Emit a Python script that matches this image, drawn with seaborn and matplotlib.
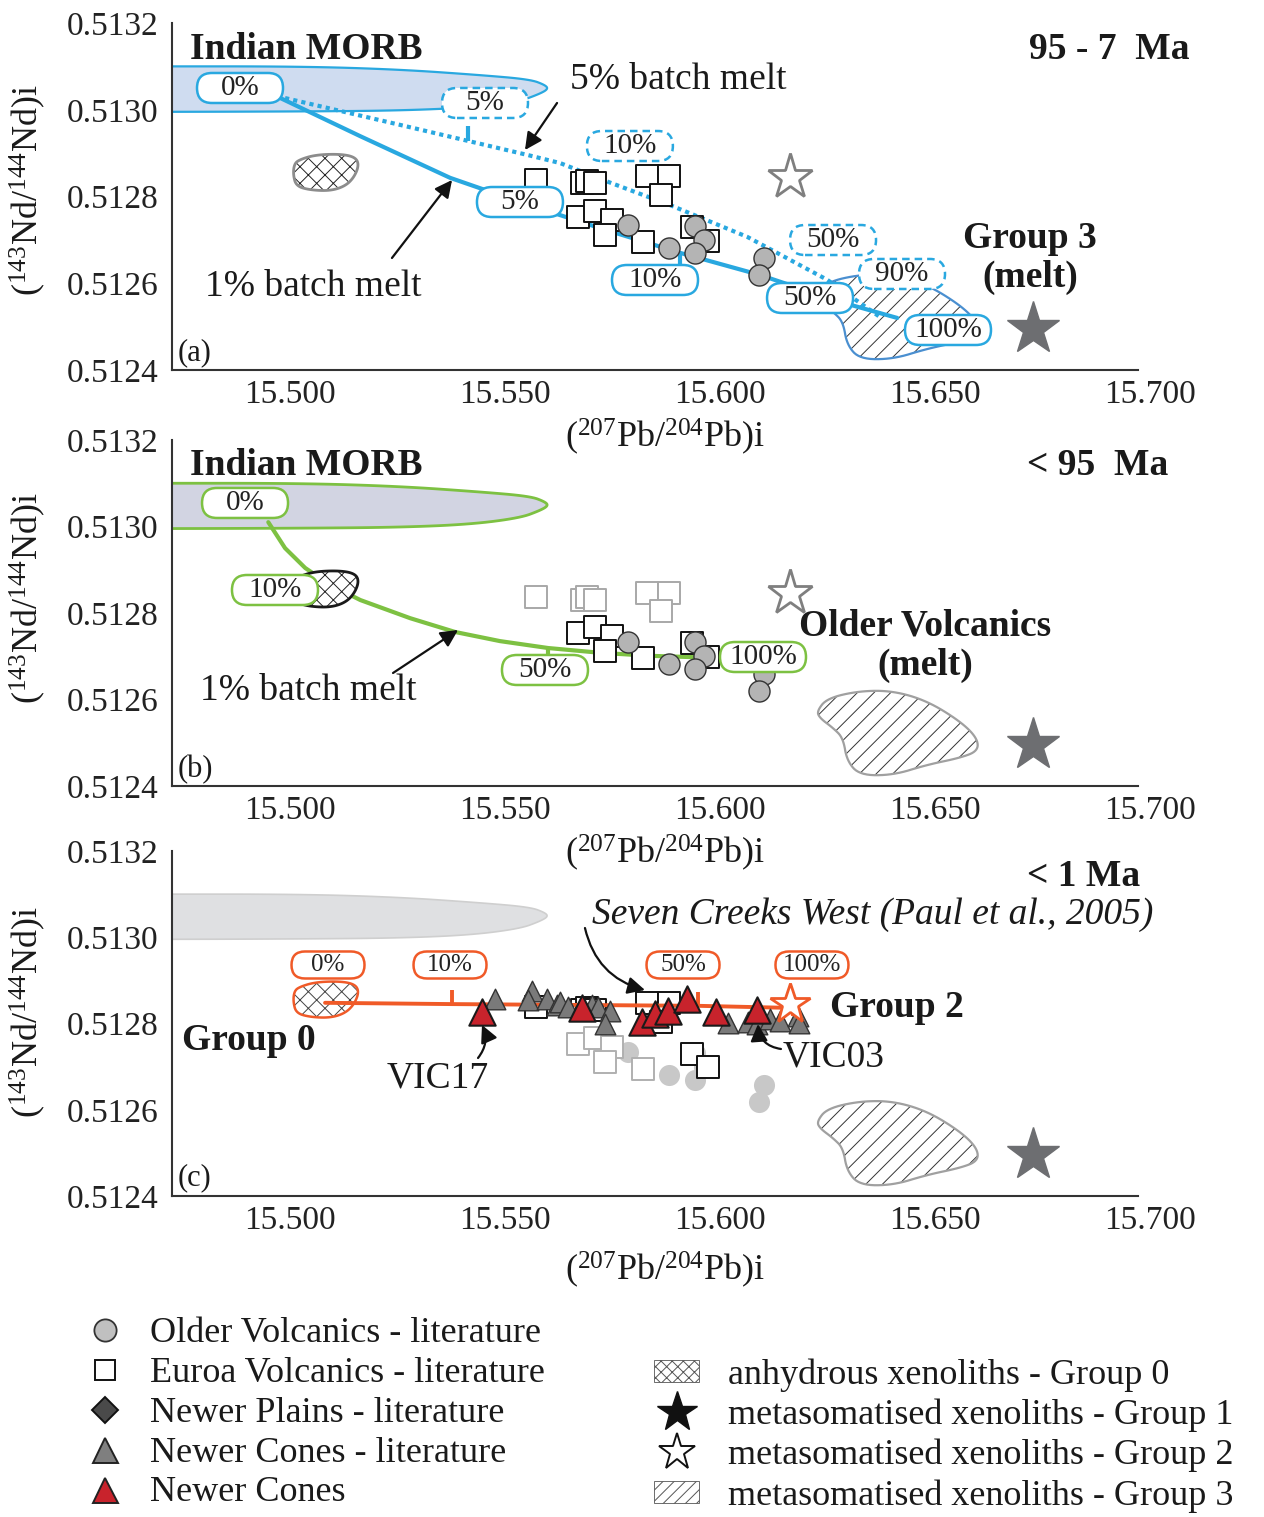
import numpy as np
import matplotlib
matplotlib.use("Agg")
import matplotlib.pyplot as plt
import matplotlib.transforms as mtransforms
from matplotlib.patches import FancyBboxPatch, Patch
from matplotlib.lines import Line2D
from matplotlib import markers as mmarkers
import seaborn as sns

sns.set_theme(style="white")
plt.rcParams["font.family"] = ["Liberation Serif", "DejaVu Serif"]
plt.rcParams["mathtext.fontset"] = "custom"
plt.rcParams["mathtext.rm"] = "Liberation Serif"
plt.rcParams["mathtext.it"] = "Liberation Serif:italic"
plt.rcParams["mathtext.bf"] = "Liberation Serif:bold"
plt.rcParams["hatch.linewidth"] = 0.7

# ---------------- data ----------------
# Older Volcanics - literature
ov_pb = [15.5814, 15.5909, 15.5970, 15.5991, 15.5970, 15.6130, 15.6119]
ov_nd = [0.512734, 0.512681, 0.512732, 0.512700, 0.512670, 0.512658, 0.512619]

# Euroa Volcanics - literature (set: upper / lower / right cluster)
eu_pb = [15.5600, 15.5707, 15.5719, 15.5737, 15.5858, 15.5909, 15.5891,
         15.5698, 15.5737, 15.5777, 15.5760, 15.5849,
         15.5963, 15.6000]
eu_nd = [0.512838, 0.512831, 0.512836, 0.512831, 0.512847, 0.512847, 0.512804,
         0.512753, 0.512767, 0.512746, 0.512711, 0.512695,
         0.512730, 0.512698]
eu_set = ["upper"] * 7 + ["lower"] * 5 + ["right"] * 2

# Newer Cones - literature
nc_pb = [15.5505, 15.5591, 15.5581, 15.5626, 15.5649, 15.5656, 15.5674, 15.5730, 15.5744,
         15.5772, 15.5760, 15.6047, 15.6093, 15.6114, 15.6144, 15.6167, 15.6209, 15.6212]
nc_nd = [0.512857, 0.512875, 0.512854, 0.512857, 0.512843, 0.512850, 0.512838, 0.512843, 0.512838,
         0.512829, 0.512799, 0.512801, 0.512803, 0.512799, 0.512810, 0.512806, 0.512817, 0.512801]

# Newer Cones (this study)
vc_pb = [15.5474, 15.5707, 15.5847, 15.5877, 15.5907, 15.5951, 15.6019, 15.6114]
vc_nd = [0.512827, 0.512836, 0.512803, 0.512822, 0.512829, 0.512857, 0.512827, 0.512831]

# xenolith groups
g1_pb, g1_nd = [15.6755], [0.512495]
g2_pb, g2_nd = [15.6190], [0.512846]

g0_pb = [15.5047, 15.5086, 15.5144, 15.5179, 15.5188, 15.5177, 15.5156, 15.5121,
         15.5074, 15.5042, 15.5035, 15.5037]
g0_nd = [0.512884, 0.512896, 0.512898, 0.512891, 0.512873, 0.512845, 0.512824, 0.512813,
         0.512815, 0.512824, 0.512850, 0.512873]

g3_pb = [15.6253, 15.6277, 15.6353, 15.6430, 15.6509, 15.6586, 15.6626, 15.6628,
         15.6586, 15.6509, 15.6430, 15.6353, 15.6323, 15.6314, 15.6291, 15.6260]
g3_nd = [0.512573, 0.512603, 0.512620, 0.512620, 0.512597, 0.512550, 0.512511, 0.512481,
         0.512465, 0.512449, 0.512425, 0.512425, 0.512458, 0.512511, 0.512534, 0.512557]

# Indian MORB field
morb_pb = [15.40, 15.47, 15.505, 15.528, 15.547, 15.5586, 15.5621, 15.5628,
           15.5609, 15.5563, 15.5447, 15.528, 15.505, 15.47, 15.40]
morb_nd = [0.513100, 0.513100, 0.513100, 0.513093, 0.513080, 0.513070, 0.513057, 0.513048,
           0.513037, 0.513020, 0.513005, 0.512998, 0.512996, 0.512995, 0.512995]

# melting / mixing models
a1_pb = [15.5005, 15.5191, 15.5400, 15.5563, 15.5749, 15.5935, 15.6121, 15.6307, 15.6440]
a1_nd = [0.513027, 0.512939, 0.512843, 0.512787, 0.512727, 0.512670, 0.512619, 0.512557, 0.512520]
a5_pb = [15.5016, 15.5284, 15.5579, 15.5656, 15.5756, 15.5912, 15.6091, 15.6277, 15.6400]
a5_nd = [0.513027, 0.512965, 0.512896, 0.512877, 0.512838, 0.512780, 0.512707, 0.512608, 0.512522]
b1_pb = [15.4977, 15.5016, 15.5063, 15.5121, 15.5191, 15.5307, 15.5412, 15.5516, 15.5628,
         15.5749, 15.5865, 15.6028]
b1_nd = [0.513010, 0.512950, 0.512904, 0.512865, 0.512830, 0.512788, 0.512756, 0.512735,
         0.512719, 0.512708, 0.512701, 0.512696]
c_pb = [15.5109, 15.5405, 15.5977, 15.6198]
c_nd = [0.512848, 0.512845, 0.512841, 0.512836]

a1_tick_pb = [15.5935]
a5_tick_pb = [15.5442]
b1_tick_pb = [15.5628]
c_tick_pb = [15.5405, 15.5977]
c_end_pb = [15.6198]

x_major = [15.500, 15.550, 15.600, 15.650, 15.700]
x_minor = [15.525, 15.575, 15.625, 15.675]
y_major = [0.5124, 0.5126, 0.5128, 0.5130, 0.5132]
y_minor = [0.5125, 0.5127, 0.5129, 0.5131]

# ---------------- colours ----------------
BLUE = "#29a8e0"
GREEN = "#7dc142"
ORANGE = "#f05a28"
RED = "#c8232c"
DARK = "#222222"
TXT = "#1a1a1a"

W, H = 1264, 1517
fig = plt.figure(figsize=(W / 100, H / 100), dpi=100)
fig.patch.set_facecolor("white")


def axrect(left, right, top, bottom):
    return [left / W, 1 - bottom / H, (right - left) / W, (bottom - top) / H]


axa = fig.add_axes(axrect(172, 1138, 23, 370))
axb = fig.add_axes(axrect(172, 1138, 440, 786))
axc = fig.add_axes(axrect(172, 1138, 851, 1196))


def smooth_closed(xs, ys, n=3):
    pts = np.column_stack([xs, ys]).astype(float)
    for _ in range(n):
        nxt = np.roll(pts, -1, axis=0)
        q = 0.75 * pts + 0.25 * nxt
        r = 0.25 * pts + 0.75 * nxt
        out = np.empty((2 * len(q), 2))
        out[0::2] = q
        out[1::2] = r
        pts = out
    return pts[:, 0], pts[:, 1]


def style_axis(ax):
    ax.set_xlim(15.4753, 15.700)
    ax.set_ylim(0.5124, 0.5132)
    for s in ["top", "right"]:
        ax.spines[s].set_visible(False)
    for s in ["left", "bottom"]:
        ax.spines[s].set_color("#333333")
        ax.spines[s].set_linewidth(1.5)
    ax.set_xticks(x_major)
    ax.set_xticklabels([f"{v:.3f}" for v in x_major])
    ax.set_xticks(x_minor, minor=True)
    ax.set_yticks(y_major)
    ax.set_yticklabels([f"{v:.4f}" for v in y_major])
    ax.set_yticks(y_minor, minor=True)
    ax.tick_params(which="both", direction="in", length=6, width=1.3, color="#333333")
    ax.tick_params(axis="x", which="major", labelsize=24, pad=7, labelcolor="#222")
    ax.tick_params(axis="y", which="major", labelsize=24, pad=10, labelcolor="#222")
    off = mtransforms.ScaledTranslation(0.12, 0, fig.dpi_scale_trans)
    for lab in ax.get_xticklabels():
        lab.set_transform(lab.get_transform() + off)
    ax.set_xlabel("")
    ax.set_ylabel("")
    ax.set_facecolor("white")


def field(ax, xs, ys, fc, ec, lw=1.6, hatch=None, hatch_color=DARK, z=1, n=3):
    sx, sy = smooth_closed(xs, ys, n)
    if hatch:
        ax.fill(sx, sy, facecolor=fc, edgecolor=hatch_color, hatch=hatch, lw=0, zorder=z)
        ax.fill(sx, sy, facecolor="none", edgecolor=ec, lw=lw, zorder=z + 0.1)
    else:
        ax.fill(sx, sy, facecolor=fc, edgecolor=ec, lw=lw, zorder=z)


def pill(ax, xa, ya, text, color, ls="-", w=0.86, h=0.30, fs=21):
    trans = fig.dpi_scale_trans + mtransforms.ScaledTranslation(xa, ya, ax.transAxes)
    p = FancyBboxPatch((-w / 2, -h / 2), w, h,
                       boxstyle=f"round,pad=0,rounding_size={h / 2}",
                       transform=trans, facecolor="white", edgecolor=color,
                       lw=1.8, ls=ls, zorder=8, clip_on=False)
    ax.add_artist(p)
    ax.text(xa, ya, text, transform=ax.transAxes, ha="center", va="center",
            fontsize=fs, color="#222", zorder=9)


def arrow(ax, tail, tip, rad=0.0):
    ax.annotate("", xy=tip, xytext=tail, xycoords="axes fraction", textcoords="axes fraction",
                arrowprops=dict(arrowstyle="-|>", lw=1.6, color="#111",
                                mutation_scale=26, shrinkA=0, shrinkB=0,
                                connectionstyle=f"arc3,rad={rad}"), zorder=10)


def scatter(ax, x, y, marker, s, fc, ec, lw=1.2, z=5):
    sns.scatterplot(x=x, y=y, marker=marker, s=s, color=fc, edgecolor=ec,
                    linewidth=lw, ax=ax, zorder=z, legend=False)


def euroa(ax, colours):
    for grp, col in colours.items():
        xs = [p for p, g in zip(eu_pb, eu_set) if g == grp]
        ys = [n for n, g in zip(eu_nd, eu_set) if g == grp]
        scatter(ax, xs, ys, "s", 250, "white", col, lw=1.4, z=4)


def stars(ax, g2_edge, g2_ms=34):
    ax.plot(g1_pb, g1_nd, ls="none", marker="*", ms=40, mfc="#6d6e71", mec="#6d6e71", zorder=5)
    ax.plot(g2_pb, g2_nd, ls="none", marker="*", ms=g2_ms, mfc="white", mec=g2_edge, mew=2.0, zorder=5)


def label(ax, x, y, s, fs=27, bold=False, ha="left", **kw):
    ax.text(x, y, s, transform=ax.transAxes, fontsize=fs,
            fontweight="bold" if bold else "normal", ha=ha, va="center", color=TXT, **kw)


# ================= panel (a) =================
ax = axa
style_axis(ax)
field(ax, morb_pb, morb_nd, "#cfdcf0", BLUE, lw=1.6, z=1)
field(ax, g0_pb, g0_nd, "white", "#8c8c8c", lw=2.0, hatch="xx", z=2)
field(ax, g3_pb, g3_nd, "white", "#4a8fd0", lw=1.6, hatch="//", hatch_color="#333", z=1)
sns.lineplot(x=a5_pb, y=a5_nd, sort=False, estimator=None, color=BLUE, lw=3.0,
             ls=(0, (1.0, 1.0)), ax=ax, zorder=3)
sns.lineplot(x=a1_pb, y=a1_nd, sort=False, estimator=None, color=BLUE, lw=3.0, ax=ax, zorder=3)
ax.plot(a1_tick_pb, np.interp(a1_tick_pb, a1_pb, a1_nd), ls="none",
        marker=mmarkers.TICKDOWN, ms=9, mew=3, color=BLUE, zorder=3)
ax.plot(a5_tick_pb, np.interp(a5_tick_pb, a5_pb, a5_nd), ls="none",
        marker=mmarkers.TICKUP, ms=11, mew=3, color=BLUE, zorder=3)
euroa(ax, {"upper": "#111", "lower": "#111", "right": "#111"})
scatter(ax, ov_pb, ov_nd, "o", 230, "#b4b4b4", "#333", lw=1.0, z=5)
stars(ax, "#7f7f7f")

pill(ax, 0.0704, 0.8127, "0%", BLUE)
pill(ax, 0.3240, 0.7695, "5%", BLUE, ls=(0, (3, 2)))
pill(ax, 0.4740, 0.6455, "10%", BLUE, ls=(0, (3, 2)))
pill(ax, 0.3602, 0.4841, "5%", BLUE)
pill(ax, 0.5000, 0.2594, "10%", BLUE)
pill(ax, 0.6843, 0.3746, "50%", BLUE, ls=(0, (3, 2)))
pill(ax, 0.7557, 0.2767, "90%", BLUE, ls=(0, (3, 2)))
pill(ax, 0.6605, 0.2075, "50%", BLUE)
pill(ax, 0.8033, 0.1153, "100%", BLUE)

label(ax, 0.0186, 0.925, "Indian MORB", bold=True)
label(ax, 1.0538, 0.925, "95 - 7  Ma", bold=True, ha="right")
label(ax, 0.412, 0.836, "5% batch melt")
label(ax, 0.0342, 0.239, "1% batch melt")
label(ax, 0.888, 0.323, "Group 3\n(melt)", bold=True, ha="center", linespacing=1.15)
label(ax, 0.0062, 0.049, "(a)", fs=22)
arrow(ax, (0.3986, 0.7695), (0.3654, 0.634))
arrow(ax, (0.2277, 0.3228), (0.2899, 0.5476))

# ================= panel (b) =================
ax = axb
style_axis(ax)
field(ax, morb_pb, morb_nd, "#d2d4e2", GREEN, lw=2.0, z=1)
field(ax, g3_pb, g3_nd, "white", "#a0a0a0", lw=1.6, hatch="//", hatch_color="#333", z=1)
sns.lineplot(x=b1_pb, y=b1_nd, sort=False, estimator=None, color=GREEN, lw=3.0, ax=ax, zorder=3)
ax.plot(b1_tick_pb, np.interp(b1_tick_pb, b1_pb, b1_nd), ls="none",
        marker=mmarkers.TICKDOWN, ms=9, mew=3, color=GREEN, zorder=3)
field(ax, g0_pb, g0_nd, "white", "#1a1a1a", lw=2.0, hatch="xx", z=4)
euroa(ax, {"upper": "#a8a8a8", "lower": "#111", "right": "#111"})
scatter(ax, ov_pb, ov_nd, "o", 230, "#b4b4b4", "#333", lw=1.0, z=5)
stars(ax, "#7f7f7f")

pill(ax, 0.0756, 0.8180, "0%", GREEN)
pill(ax, 0.1066, 0.5665, "10%", GREEN)
pill(ax, 0.3861, 0.3353, "50%", GREEN)
pill(ax, 0.6118, 0.3728, "100%", GREEN)

label(ax, 0.0186, 0.925, "Indian MORB", bold=True)
label(ax, 1.031, 0.925, "< 95  Ma", bold=True, ha="right")
label(ax, 0.7795, 0.4046, "Older Volcanics\n(melt)", bold=True, ha="center", linespacing=1.15)
label(ax, 0.029, 0.2746, "1% batch melt")
label(ax, 0.0062, 0.0462, "(b)", fs=22)
arrow(ax, (0.2288, 0.3266), (0.2961, 0.4509))

# ================= panel (c) =================
ax = axc
style_axis(ax)
field(ax, morb_pb, morb_nd, "#dfe0e2", "#cfcfcf", lw=1.2, z=1)
field(ax, g3_pb, g3_nd, "white", "#a0a0a0", lw=1.6, hatch="//", hatch_color="#333", z=1)
field(ax, g0_pb, g0_nd, "white", ORANGE, lw=1.8, hatch="xx", hatch_color="#444", z=2)
euroa(ax, {"upper": "#111", "lower": "#b0b0b0", "right": "#111"})
scatter(ax, ov_pb, ov_nd, "o", 230, "#c8c8c8", "#c8c8c8", lw=0, z=3)
sns.lineplot(x=c_pb, y=c_nd, sort=False, estimator=None, color=ORANGE, lw=2.8, ax=ax, zorder=4)
ax.plot(c_tick_pb, np.interp(c_tick_pb, c_pb, c_nd), ls="none",
        marker=mmarkers.TICKUP, ms=10, mew=2.8, color=ORANGE, zorder=4)
ax.plot(c_end_pb, c_nd[-1:], ls="none", marker="|", ms=12, mew=2.8, color=ORANGE, zorder=4)
scatter(ax, nc_pb, nc_nd, "^", 220, "#7a7a7a", "#333", lw=1.0, z=5)
scatter(ax, vc_pb, vc_nd, "^", 360, RED, "#1a1a1a", lw=1.5, z=6)
stars(ax, ORANGE, g2_ms=30)

pill(ax, 0.1615, 0.6696, "0%", ORANGE, w=0.73, h=0.27, fs=18)
pill(ax, 0.2878, 0.6696, "10%", ORANGE, w=0.73, h=0.27, fs=18)
pill(ax, 0.5290, 0.6696, "50%", ORANGE, w=0.73, h=0.27, fs=18)
pill(ax, 0.6625, 0.6696, "100%", ORANGE, w=0.73, h=0.27, fs=18)

label(ax, 1.002, 0.9275, "< 1 Ma", bold=True, ha="right")
label(ax, 0.4348, 0.8145, "Seven Creeks West (Paul et al., 2005)", fontstyle="italic")
label(ax, 0.0104, 0.4493, "Group 0", bold=True)
label(ax, 0.6812, 0.5478, "Group 2", bold=True)
label(ax, 0.2754, 0.342, "VIC17", ha="center")
label(ax, 0.6325, 0.4029, "VIC03")
label(ax, 0.0062, 0.0522, "(c)", fs=22)
arrow(ax, (0.4275, 0.7768), (0.4896, 0.5971), rad=0.3)
arrow(ax, (0.3168, 0.400), (0.3209, 0.4957), rad=0.3)
arrow(ax, (0.6304, 0.4261), (0.6066, 0.4986), rad=-0.4)

# ---------------- axis titles ----------------
xlab = r"$(^{207}\mathrm{Pb}/^{204}\mathrm{Pb})\mathrm{i}$"
ylab = r"$(^{143}\mathrm{Nd}/^{144}\mathrm{Nd})\mathrm{i}$"
for py in (437, 853, 1270):
    fig.text(665 / W, 1 - py / H, xlab, ha="center", va="center", fontsize=26, color=TXT)
for py in (190, 598, 1012):
    fig.text(28 / W, 1 - py / H, ylab, ha="center", va="center", rotation=90,
             fontsize=26, color=TXT)

# ---------------- legends ----------------
left_handles = [
    Line2D([], [], ls="none", marker="o", ms=16, mfc="#c0c0c0", mec="#333", mew=1.3),
    Line2D([], [], ls="none", marker="s", ms=15, mfc="white", mec="#111", mew=1.4),
    Line2D([], [], ls="none", marker="D", ms=13, mfc="#4a4a4a", mec="#111", mew=1.4),
    Line2D([], [], ls="none", marker="^", ms=18, mfc="#7f7f7f", mec="#222", mew=1.4),
    Line2D([], [], ls="none", marker="^", ms=18, mfc=RED, mec="#222", mew=1.4),
]
left_labels = ["Older Volcanics - literature", "Euroa Volcanics - literature",
               "Newer Plains - literature", "Newer Cones - literature", "Newer Cones"]
right_handles = [
    Patch(facecolor="white", edgecolor="#555", hatch="xxx", lw=0.6),
    Line2D([], [], ls="none", marker="*", ms=30, mfc="#111", mec="#111"),
    Line2D([], [], ls="none", marker="*", ms=28, mfc="white", mec="#111", mew=1.4),
    Patch(facecolor="white", edgecolor="#555", hatch="///", lw=0.6),
]
right_labels = ["anhydrous xenoliths - Group 0", "metasomatised xenoliths - Group 1",
                "metasomatised xenoliths - Group 2", "metasomatised xenoliths - Group 3"]

common = dict(frameon=False, fontsize=26, labelspacing=0.19, borderpad=0, borderaxespad=0,
              handleheight=0.57, loc="upper left", labelcolor=TXT)
leg1 = fig.legend(left_handles, left_labels, bbox_to_anchor=(82 / W, 1 - 1317 / H),
                  handlelength=1.25, handletextpad=0.63, **common)
leg2 = fig.legend(right_handles, right_labels, bbox_to_anchor=(654 / W, 1 - 1358 / H),
                  handlelength=1.25, handletextpad=0.79, **common)

fig.savefig("out.png", dpi=100, facecolor="white")
